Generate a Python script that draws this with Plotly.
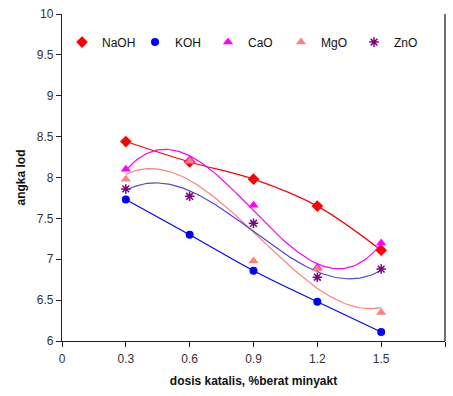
import numpy as np
import plotly.graph_objects as go

dose = [0.3, 0.6, 0.9, 1.2, 1.5]
naoh = [8.44, 8.19, 7.98, 7.65, 7.11]
koh = [7.73, 7.30, 6.86, 6.48, 6.11]
cao = [8.10, 8.22, 7.66, 6.90, 7.20]
mgo = [7.98, 8.20, 6.98, 6.88, 6.35]
zno = [7.86, 7.77, 7.44, 6.78, 6.88]

x_ticks = [0, 0.3, 0.6, 0.9, 1.2, 1.5, 1.8]
y_ticks = [6, 6.5, 7, 7.5, 8, 8.5, 9, 9.5, 10]

FONT = "Liberation Sans, Arial, sans-serif"
fig = go.Figure()

xs = np.linspace(min(dose), max(dose), 120)


def fit(y):
    return np.polyval(np.polyfit(dose, y, 3), xs)


# smoothed lines through points
fig.add_trace(go.Scatter(x=dose, y=naoh, mode="lines", line=dict(color="#FF0000", width=1.2, shape="spline"),
                         showlegend=False, hoverinfo="skip"))
fig.add_trace(go.Scatter(x=dose, y=koh, mode="lines", line=dict(color="#0000FF", width=1.2, shape="spline"),
                         showlegend=False, hoverinfo="skip"))
# polynomial trendlines
fig.add_trace(go.Scatter(x=xs, y=fit(cao), mode="lines", line=dict(color="#FF00FF", width=1.2),
                         showlegend=False, hoverinfo="skip"))
fig.add_trace(go.Scatter(x=xs, y=fit(mgo), mode="lines", line=dict(color="#FF8080", width=1.2),
                         showlegend=False, hoverinfo="skip"))
fig.add_trace(go.Scatter(x=xs, y=fit(zno), mode="lines", line=dict(color="#4B4BD2", width=1.2),
                         showlegend=False, hoverinfo="skip"))

# markers
fig.add_trace(go.Scatter(x=dose, y=naoh, mode="markers", name="NaOH",
                         marker=dict(symbol="diamond", size=9, color="#FF0000")))
fig.add_trace(go.Scatter(x=dose, y=koh, mode="markers", name="KOH",
                         marker=dict(symbol="circle", size=8, color="#0000FF")))
fig.add_trace(go.Scatter(x=dose, y=cao, mode="markers", name="CaO",
                         marker=dict(symbol="triangle-up", size=9, color="#FF00FF")))
fig.add_trace(go.Scatter(x=dose, y=mgo, mode="markers", name="MgO",
                         marker=dict(symbol="triangle-up", size=9, color="#FF8080")))
fig.add_trace(go.Scatter(x=dose, y=zno, mode="markers", name="ZnO",
                         marker=dict(symbol="asterisk-open", size=8, color="#800080",
                                     line=dict(color="#800080", width=1.5))))

fig.update_layout(
    width=453, height=396,
    margin=dict(l=62, r=8, t=14, b=55),
    paper_bgcolor="white", plot_bgcolor="white",
    font=dict(family=FONT, size=12, color="#333333"),
    legend=dict(orientation="h", x=0.0, y=0.914, xanchor="left", yanchor="middle",
                bgcolor="rgba(0,0,0,0)", font=dict(size=12, color="#111111"),
                itemwidth=30, tracegroupgap=0, entrywidth=28),
    xaxis=dict(range=[0, 1.8], tickvals=x_ticks, ticktext=[f"{v:g}" for v in x_ticks],
               showgrid=False, zeroline=False, showline=True, linecolor="#222222", linewidth=1.3,
               mirror=False, ticks="outside", ticklen=5, tickcolor="#222222", ticklabelstandoff=1,
               automargin=False,
               title=dict(text="<b>dosis katalis, %berat minyakt</b>", font=dict(size=12, color="#111111"),
                          standoff=12)),
    yaxis=dict(range=[6, 10], tickvals=y_ticks, ticktext=[f"{v:g}" for v in y_ticks],
               showgrid=False, zeroline=False, showline=True, linecolor="#222222", linewidth=1.3,
               ticks="outside", ticklen=5, tickcolor="#222222", automargin=False,
               title=dict(text="<b>angka Iod</b>", font=dict(size=12, color="#111111"), standoff=8)),
)

# right border line
fig.add_shape(type="line", xref="paper", yref="paper", x0=1, x1=1, y0=0, y1=1,
              line=dict(color="#222222", width=1.3))

fig.write_html("out.html")
